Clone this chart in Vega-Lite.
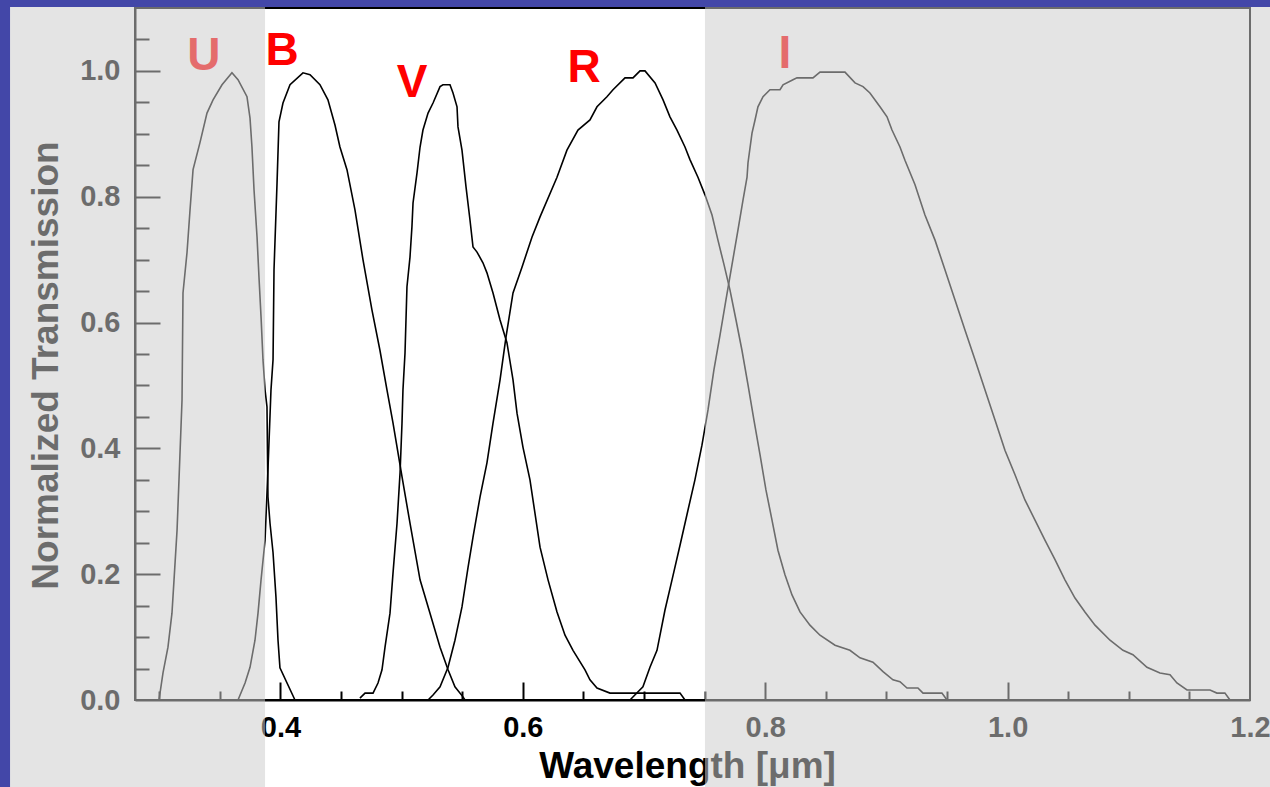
{
  "$schema": "https://vega.github.io/schema/vega-lite/v6.json",
  "width": 1115,
  "height": 692,
  "autosize": {"type": "none"},
  "padding": {"left": 135, "top": 8, "right": 20, "bottom": 87},
  "background": "#ffffff",
  "config": {"view": {"stroke": "#000000", "strokeWidth": 2}},
  "resolve": {"axis": {"x": "independent", "y": "independent"}},
  "layer": [
    {
      "data": {"values": [
        {"band":"U","i":0,"wl":0.2998,"t":0},{"band":"U","i":1,"wl":0.3031,"t":0.043},{"band":"U","i":2,"wl":0.3072,"t":0.084},{"band":"U","i":3,"wl":0.3105,"t":0.138},{"band":"U","i":4,"wl":0.3122,"t":0.191},{"band":"U","i":5,"wl":0.3147,"t":0.270},{"band":"U","i":6,"wl":0.3163,"t":0.350},{"band":"U","i":7,"wl":0.3188,"t":0.477},{"band":"U","i":8,"wl":0.3196,"t":0.647},{"band":"U","i":9,"wl":0.3229,"t":0.711},{"band":"U","i":10,"wl":0.3254,"t":0.779},{"band":"U","i":11,"wl":0.3279,"t":0.843},{"band":"U","i":12,"wl":0.3336,"t":0.886},{"band":"U","i":13,"wl":0.3394,"t":0.933},{"band":"U","i":14,"wl":0.3444,"t":0.954},{"band":"U","i":15,"wl":0.3518,"t":0.978},{"band":"U","i":16,"wl":0.3600,"t":0.997},{"band":"U","i":17,"wl":0.3650,"t":0.986},{"band":"U","i":18,"wl":0.3724,"t":0.959},{"band":"U","i":19,"wl":0.3749,"t":0.925},{"band":"U","i":20,"wl":0.3765,"t":0.879},{"band":"U","i":21,"wl":0.3782,"t":0.811},{"band":"U","i":22,"wl":0.3807,"t":0.736},{"band":"U","i":23,"wl":0.3823,"t":0.672},{"band":"U","i":24,"wl":0.3840,"t":0.609},{"band":"U","i":25,"wl":0.3856,"t":0.541},{"band":"U","i":26,"wl":0.3873,"t":0.493},{"band":"U","i":27,"wl":0.3889,"t":0.466},{"band":"U","i":28,"wl":0.3897,"t":0.323},{"band":"U","i":29,"wl":0.3914,"t":0.281},{"band":"U","i":30,"wl":0.3939,"t":0.234},{"band":"U","i":31,"wl":0.3963,"t":0.164},{"band":"U","i":32,"wl":0.3980,"t":0.095},{"band":"U","i":33,"wl":0.3996,"t":0.051},{"band":"U","i":34,"wl":0.4120,"t":0},
        {"band":"B","i":0,"wl":0.3650,"t":0},{"band":"B","i":1,"wl":0.3708,"t":0.027},{"band":"B","i":2,"wl":0.3749,"t":0.052},{"band":"B","i":3,"wl":0.3790,"t":0.095},{"band":"B","i":4,"wl":0.3815,"t":0.138},{"band":"B","i":5,"wl":0.3840,"t":0.191},{"band":"B","i":6,"wl":0.3873,"t":0.254},{"band":"B","i":7,"wl":0.3897,"t":0.366},{"band":"B","i":8,"wl":0.3922,"t":0.493},{"band":"B","i":9,"wl":0.3939,"t":0.541},{"band":"B","i":10,"wl":0.3947,"t":0.684},{"band":"B","i":11,"wl":0.3972,"t":0.822},{"band":"B","i":12,"wl":0.3988,"t":0.919},{"band":"B","i":13,"wl":0.4021,"t":0.949},{"band":"B","i":14,"wl":0.4079,"t":0.978},{"band":"B","i":15,"wl":0.4186,"t":0.997},{"band":"B","i":16,"wl":0.4244,"t":0.994},{"band":"B","i":17,"wl":0.4326,"t":0.978},{"band":"B","i":18,"wl":0.4392,"t":0.954},{"band":"B","i":19,"wl":0.4450,"t":0.914},{"band":"B","i":20,"wl":0.4491,"t":0.879},{"band":"B","i":21,"wl":0.4549,"t":0.843},{"band":"B","i":22,"wl":0.4615,"t":0.779},{"band":"B","i":23,"wl":0.4681,"t":0.700},{"band":"B","i":24,"wl":0.4755,"t":0.620},{"band":"B","i":25,"wl":0.4821,"t":0.556},{"band":"B","i":26,"wl":0.4879,"t":0.493},{"band":"B","i":27,"wl":0.4929,"t":0.440},{"band":"B","i":28,"wl":0.5003,"t":0.355},{"band":"B","i":29,"wl":0.5069,"t":0.281},{"band":"B","i":30,"wl":0.5152,"t":0.191},{"band":"B","i":31,"wl":0.5234,"t":0.138},{"band":"B","i":32,"wl":0.5317,"t":0.084},{"band":"B","i":33,"wl":0.5383,"t":0.048},{"band":"B","i":34,"wl":0.5440,"t":0.021},{"band":"B","i":35,"wl":0.5506,"t":0.005},{"band":"B","i":36,"wl":0.5523,"t":0},
        {"band":"V","i":0,"wl":0.4656,"t":0.003},{"band":"V","i":1,"wl":0.4698,"t":0.011},{"band":"V","i":2,"wl":0.4764,"t":0.011},{"band":"V","i":3,"wl":0.4805,"t":0.027},{"band":"V","i":4,"wl":0.4838,"t":0.048},{"band":"V","i":5,"wl":0.4863,"t":0.084},{"band":"V","i":6,"wl":0.4904,"t":0.138},{"band":"V","i":7,"wl":0.4929,"t":0.202},{"band":"V","i":8,"wl":0.4962,"t":0.281},{"band":"V","i":9,"wl":0.4987,"t":0.361},{"band":"V","i":10,"wl":0.5003,"t":0.440},{"band":"V","i":11,"wl":0.5011,"t":0.493},{"band":"V","i":12,"wl":0.5028,"t":0.552},{"band":"V","i":13,"wl":0.5044,"t":0.657},{"band":"V","i":14,"wl":0.5069,"t":0.704},{"band":"V","i":15,"wl":0.5085,"t":0.752},{"band":"V","i":16,"wl":0.5094,"t":0.790},{"band":"V","i":17,"wl":0.5127,"t":0.838},{"band":"V","i":18,"wl":0.5152,"t":0.879},{"band":"V","i":19,"wl":0.5176,"t":0.906},{"band":"V","i":20,"wl":0.5218,"t":0.933},{"band":"V","i":21,"wl":0.5259,"t":0.949},{"band":"V","i":22,"wl":0.5317,"t":0.975},{"band":"V","i":23,"wl":0.5341,"t":0.978},{"band":"V","i":24,"wl":0.5399,"t":0.978},{"band":"V","i":25,"wl":0.5424,"t":0.965},{"band":"V","i":26,"wl":0.5457,"t":0.943},{"band":"V","i":27,"wl":0.5465,"t":0.911},{"band":"V","i":28,"wl":0.5498,"t":0.874},{"band":"V","i":29,"wl":0.5531,"t":0.816},{"band":"V","i":30,"wl":0.5564,"t":0.763},{"band":"V","i":31,"wl":0.5589,"t":0.720},{"band":"V","i":32,"wl":0.5622,"t":0.712},{"band":"V","i":33,"wl":0.5671,"t":0.695},{"band":"V","i":34,"wl":0.5704,"t":0.679},{"band":"V","i":35,"wl":0.5754,"t":0.647},{"band":"V","i":36,"wl":0.5812,"t":0.604},{"band":"V","i":37,"wl":0.5869,"t":0.568},{"band":"V","i":38,"wl":0.5919,"t":0.509},{"band":"V","i":39,"wl":0.5952,"t":0.456},{"band":"V","i":40,"wl":0.6001,"t":0.402},{"band":"V","i":41,"wl":0.6059,"t":0.350},{"band":"V","i":42,"wl":0.6142,"t":0.243},{"band":"V","i":43,"wl":0.6208,"t":0.191},{"band":"V","i":44,"wl":0.6282,"t":0.140},{"band":"V","i":45,"wl":0.6348,"t":0.103},{"band":"V","i":46,"wl":0.6414,"t":0.079},{"band":"V","i":47,"wl":0.6513,"t":0.048},{"band":"V","i":48,"wl":0.6554,"t":0.032},{"band":"V","i":49,"wl":0.6612,"t":0.019},{"band":"V","i":50,"wl":0.6719,"t":0.011},{"band":"V","i":51,"wl":0.7297,"t":0.011},{"band":"V","i":52,"wl":0.7338,"t":0},
        {"band":"R","i":0,"wl":0.5218,"t":0},{"band":"R","i":1,"wl":0.5259,"t":0.008},{"band":"R","i":2,"wl":0.5317,"t":0.021},{"band":"R","i":3,"wl":0.5383,"t":0.052},{"band":"R","i":4,"wl":0.5440,"t":0.095},{"band":"R","i":5,"wl":0.5498,"t":0.148},{"band":"R","i":6,"wl":0.5548,"t":0.211},{"band":"R","i":7,"wl":0.5589,"t":0.259},{"band":"R","i":8,"wl":0.5647,"t":0.323},{"band":"R","i":9,"wl":0.5704,"t":0.377},{"band":"R","i":10,"wl":0.5754,"t":0.440},{"band":"R","i":11,"wl":0.5812,"t":0.509},{"band":"R","i":12,"wl":0.5861,"t":0.577},{"band":"R","i":13,"wl":0.5919,"t":0.647},{"band":"R","i":14,"wl":0.5993,"t":0.688},{"band":"R","i":15,"wl":0.6076,"t":0.736},{"band":"R","i":16,"wl":0.6142,"t":0.768},{"band":"R","i":17,"wl":0.6282,"t":0.831},{"band":"R","i":18,"wl":0.6364,"t":0.874},{"band":"R","i":19,"wl":0.6455,"t":0.906},{"band":"R","i":20,"wl":0.6554,"t":0.922},{"band":"R","i":21,"wl":0.6612,"t":0.943},{"band":"R","i":22,"wl":0.6694,"t":0.959},{"band":"R","i":23,"wl":0.6744,"t":0.970},{"band":"R","i":24,"wl":0.6843,"t":0.989},{"band":"R","i":25,"wl":0.6909,"t":0.989},{"band":"R","i":26,"wl":0.6967,"t":1.0},{"band":"R","i":27,"wl":0.7008,"t":1.0},{"band":"R","i":28,"wl":0.7091,"t":0.981},{"band":"R","i":29,"wl":0.7157,"t":0.954},{"band":"R","i":30,"wl":0.7214,"t":0.927},{"band":"R","i":31,"wl":0.7272,"t":0.906},{"band":"R","i":32,"wl":0.7338,"t":0.879},{"band":"R","i":33,"wl":0.7379,"t":0.859},{"band":"R","i":34,"wl":0.7445,"t":0.831},{"band":"R","i":35,"wl":0.7503,"t":0.803},{"band":"R","i":36,"wl":0.7561,"t":0.771},{"band":"R","i":37,"wl":0.7610,"t":0.731},{"band":"R","i":38,"wl":0.7660,"t":0.692},{"band":"R","i":39,"wl":0.7709,"t":0.652},{"band":"R","i":40,"wl":0.7759,"t":0.604},{"band":"R","i":41,"wl":0.7808,"t":0.556},{"band":"R","i":42,"wl":0.7858,"t":0.501},{"band":"R","i":43,"wl":0.7907,"t":0.445},{"band":"R","i":44,"wl":0.7957,"t":0.390},{"band":"R","i":45,"wl":0.8006,"t":0.334},{"band":"R","i":46,"wl":0.8056,"t":0.286},{"band":"R","i":47,"wl":0.8105,"t":0.238},{"band":"R","i":48,"wl":0.8163,"t":0.199},{"band":"R","i":49,"wl":0.8221,"t":0.167},{"band":"R","i":50,"wl":0.8287,"t":0.140},{"band":"R","i":51,"wl":0.8369,"t":0.119},{"band":"R","i":52,"wl":0.8452,"t":0.103},{"band":"R","i":53,"wl":0.8576,"t":0.087},{"band":"R","i":54,"wl":0.8699,"t":0.079},{"band":"R","i":55,"wl":0.8782,"t":0.067},{"band":"R","i":56,"wl":0.8889,"t":0.060},{"band":"R","i":57,"wl":0.8972,"t":0.045},{"band":"R","i":58,"wl":0.9054,"t":0.032},{"band":"R","i":59,"wl":0.9112,"t":0.029},{"band":"R","i":60,"wl":0.9170,"t":0.019},{"band":"R","i":61,"wl":0.9260,"t":0.019},{"band":"R","i":62,"wl":0.9302,"t":0.011},{"band":"R","i":63,"wl":0.9458,"t":0.011},{"band":"R","i":64,"wl":0.9500,"t":0},
        {"band":"I","i":0,"wl":0.6884,"t":0},{"band":"I","i":1,"wl":0.6991,"t":0.021},{"band":"I","i":2,"wl":0.7049,"t":0.052},{"band":"I","i":3,"wl":0.7107,"t":0.079},{"band":"I","i":4,"wl":0.7173,"t":0.143},{"band":"I","i":5,"wl":0.7231,"t":0.191},{"band":"I","i":6,"wl":0.7297,"t":0.246},{"band":"I","i":7,"wl":0.7363,"t":0.302},{"band":"I","i":8,"wl":0.7420,"t":0.350},{"band":"I","i":9,"wl":0.7478,"t":0.405},{"band":"I","i":10,"wl":0.7528,"t":0.461},{"band":"I","i":11,"wl":0.7577,"t":0.525},{"band":"I","i":12,"wl":0.7627,"t":0.580},{"band":"I","i":13,"wl":0.7676,"t":0.636},{"band":"I","i":14,"wl":0.7726,"t":0.692},{"band":"I","i":15,"wl":0.7775,"t":0.747},{"band":"I","i":16,"wl":0.7817,"t":0.795},{"band":"I","i":17,"wl":0.7850,"t":0.831},{"band":"I","i":18,"wl":0.7858,"t":0.854},{"band":"I","i":19,"wl":0.7891,"t":0.901},{"band":"I","i":20,"wl":0.7916,"t":0.922},{"band":"I","i":21,"wl":0.7940,"t":0.943},{"band":"I","i":22,"wl":0.7982,"t":0.959},{"band":"I","i":23,"wl":0.8039,"t":0.970},{"band":"I","i":24,"wl":0.8122,"t":0.970},{"band":"I","i":25,"wl":0.8147,"t":0.978},{"band":"I","i":26,"wl":0.8229,"t":0.986},{"band":"I","i":27,"wl":0.8262,"t":0.989},{"band":"I","i":28,"wl":0.8394,"t":0.989},{"band":"I","i":29,"wl":0.8452,"t":0.998},{"band":"I","i":30,"wl":0.8658,"t":0.998},{"band":"I","i":31,"wl":0.8741,"t":0.981},{"band":"I","i":32,"wl":0.8807,"t":0.975},{"band":"I","i":33,"wl":0.8864,"t":0.965},{"band":"I","i":34,"wl":0.8947,"t":0.943},{"band":"I","i":35,"wl":0.9005,"t":0.927},{"band":"I","i":36,"wl":0.9046,"t":0.906},{"band":"I","i":37,"wl":0.9112,"t":0.879},{"band":"I","i":38,"wl":0.9153,"t":0.858},{"band":"I","i":39,"wl":0.9236,"t":0.819},{"band":"I","i":40,"wl":0.9318,"t":0.771},{"band":"I","i":41,"wl":0.9401,"t":0.731},{"band":"I","i":42,"wl":0.9483,"t":0.684},{"band":"I","i":43,"wl":0.9566,"t":0.636},{"band":"I","i":44,"wl":0.9648,"t":0.588},{"band":"I","i":45,"wl":0.9731,"t":0.541},{"band":"I","i":46,"wl":0.9813,"t":0.493},{"band":"I","i":47,"wl":0.9896,"t":0.445},{"band":"I","i":48,"wl":0.9978,"t":0.397},{"band":"I","i":49,"wl":1.0061,"t":0.358},{"band":"I","i":50,"wl":1.0143,"t":0.318},{"band":"I","i":51,"wl":1.0226,"t":0.286},{"band":"I","i":52,"wl":1.0308,"t":0.254},{"band":"I","i":53,"wl":1.0391,"t":0.223},{"band":"I","i":54,"wl":1.0473,"t":0.191},{"band":"I","i":55,"wl":1.0556,"t":0.162},{"band":"I","i":56,"wl":1.0638,"t":0.140},{"band":"I","i":57,"wl":1.0721,"t":0.119},{"band":"I","i":58,"wl":1.0845,"t":0.095},{"band":"I","i":59,"wl":1.0952,"t":0.079},{"band":"I","i":60,"wl":1.1034,"t":0.072},{"band":"I","i":61,"wl":1.1150,"t":0.052},{"band":"I","i":62,"wl":1.1257,"t":0.043},{"band":"I","i":63,"wl":1.1340,"t":0.040},{"band":"I","i":64,"wl":1.1397,"t":0.027},{"band":"I","i":65,"wl":1.1480,"t":0.016},{"band":"I","i":66,"wl":1.1670,"t":0.016},{"band":"I","i":67,"wl":1.1727,"t":0.011},{"band":"I","i":68,"wl":1.1793,"t":0.011},{"band":"I","i":69,"wl":1.1835,"t":0}
      ]},
      "mark": {"type": "line", "color": "#000000", "strokeWidth": 1.6, "interpolate": "linear"},
      "encoding": {
        "x": {"field": "wl", "type": "quantitative",
              "scale": {"domain": [0.28, 1.2], "nice": false, "zero": false},
              "axis": {"orient": "bottom", "values": [0.4, 0.6, 0.8, 1.0, 1.2], "format": ".1f",
                       "ticks": false, "tickSize": 0, "grid": false,
                       "domain": true, "domainColor": "#000000", "domainWidth": 2,
                       "labelPadding": 13, "labelFont": "Liberation Sans", "labelFontSize": 29, "labelFontWeight": "bold", "labelColor": "#000000",
                       "labelFlush": false, "labelOverlap": false, "labelBound": false,
                       "title": "Wavelength [μm]", "titleFont": "Liberation Sans", "titleFontSize": 37, "titleFontWeight": "bold", "titleColor": "#000000", "titlePadding": 6, "titleX": 552}},
        "y": {"field": "t", "type": "quantitative",
              "scale": {"domain": [0, 1.1], "nice": false, "zero": false},
              "axis": {"orient": "left", "values": [0, 0.2, 0.4, 0.6, 0.8, 1.0], "format": ".1f",
                       "ticks": false, "tickSize": 0, "grid": false,
                       "domain": true, "domainColor": "#000000", "domainWidth": 2,
                       "labelPadding": 15, "labelFont": "Liberation Sans", "labelFontSize": 29, "labelFontWeight": "bold", "labelColor": "#000000",
                       "labelOverlap": false, "labelBound": false,
                       "title": "Normalized Transmission", "titleFont": "Liberation Sans", "titleFontSize": 37, "titleFontWeight": "bold", "titleColor": "#000000", "titlePadding": 14, "titleY": 357}},
        "detail": {"field": "band", "type": "nominal"},
        "order": {"field": "i", "type": "quantitative"}
      }
    },
    {
      "data": {"values": [
        {"label": "U", "wl": 0.3369, "t": 1.0016},
        {"label": "B", "wl": 0.4013, "t": 1.0095},
        {"label": "V", "wl": 0.5086, "t": 0.9587},
        {"label": "R", "wl": 0.6505, "t": 0.9825},
        {"label": "I", "wl": 0.8163, "t": 1.0048}
      ]},
      "mark": {"type": "text", "color": "#ff0000", "font": "Liberation Sans", "fontSize": 46, "fontWeight": "bold", "align": "center", "baseline": "alphabetic"},
      "encoding": {
        "x": {"field": "wl", "type": "quantitative",
              "axis": {"orient": "bottom", "values": [0.4, 0.6, 0.8, 1.0], "labels": false, "domain": false, "grid": false, "ticks": true, "tickSize": -18, "tickColor": "#000000", "tickWidth": 2, "title": null}},
        "y": {"field": "t", "type": "quantitative",
              "axis": {"orient": "left", "values": [0.2, 0.4, 0.6, 0.8, 1.0], "labels": false, "domain": false, "grid": false, "ticks": true, "tickSize": -25, "tickColor": "#000000", "tickWidth": 2, "title": null}},
        "text": {"field": "label", "type": "nominal"}
      }
    },
    {
      "data": {"values": [
        {"x1": 0.1769, "x2": 0.3873, "y1": -0.15, "y2": 1.1016},
        {"x1": 0.7503, "x2": 1.23, "y1": -0.15, "y2": 1.1016}
      ]},
      "mark": {"type": "rect", "color": "#cccccc", "opacity": 0.53},
      "encoding": {
        "x": {"field": "x1", "type": "quantitative",
              "axis": {"orient": "bottom", "values": [0.3, 0.35, 0.45, 0.5, 0.55, 0.65, 0.7, 0.75, 0.85, 0.9, 0.95, 1.05, 1.1, 1.15], "labels": false, "domain": false, "grid": false, "ticks": true, "tickSize": -9, "tickColor": "#000000", "tickWidth": 2, "title": null}},
        "x2": {"field": "x2"},
        "y": {"field": "y1", "type": "quantitative",
              "axis": {"orient": "left", "values": [0.05, 0.1, 0.15, 0.25, 0.3, 0.35, 0.45, 0.5, 0.55, 0.65, 0.7, 0.75, 0.85, 0.9, 0.95, 1.05], "labels": false, "domain": false, "grid": false, "ticks": true, "tickSize": -14, "tickColor": "#000000", "tickWidth": 2, "title": null}},
        "y2": {"field": "y2"}
      }
    },
    {
      "data": {"values": [
        {"x1": 0.16, "x2": 0.1769, "y1": -0.15, "y2": 1.12},
        {"x1": 0.16, "x2": 1.23, "y1": 1.1016, "y2": 1.12}
      ]},
      "mark": {"type": "rect", "color": "#4347a8", "opacity": 1},
      "encoding": {
        "x": {"field": "x1", "type": "quantitative", "axis": null},
        "x2": {"field": "x2"},
        "y": {"field": "y1", "type": "quantitative", "axis": null},
        "y2": {"field": "y2"}
      }
    }
  ]
}
